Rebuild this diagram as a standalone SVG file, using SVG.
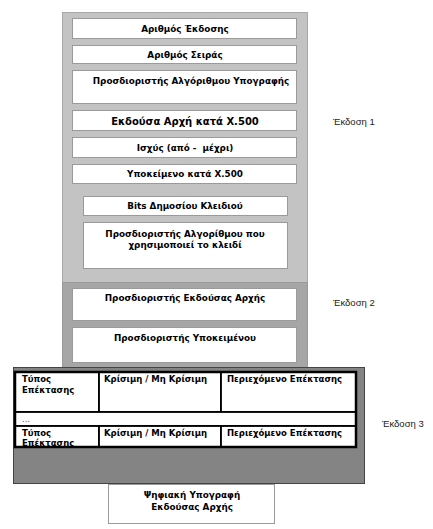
<svg xmlns="http://www.w3.org/2000/svg" width="433" height="529" viewBox="0 0 433 529">
  <style>
    .field { fill: #ffffff; stroke: #9a9a9a; stroke-width: 1; }
    .lbl { font-family: "DejaVu Sans", Verdana, sans-serif; font-weight: bold; font-size: 8.8px; fill: #000; text-anchor: middle; }
    .lbl-l { font-family: "DejaVu Sans", Verdana, sans-serif; font-weight: bold; font-size: 8.5px; fill: #000; }
    .ver { font-family: "Liberation Sans", Arial, sans-serif; font-size: 9.5px; fill: #222; }
    .cell { fill: #ffffff; stroke: #000; stroke-width: 1.8; }
  </style>
  <rect width="433" height="529" fill="#ffffff"/>

  <!-- version bands -->
  <g id="band-v1">
    <rect x="62.5" y="12.5" width="245" height="270" fill="#c3c3c3" stroke="#a8a8a8"/>
  </g>
  <g id="band-v2">
    <rect x="62.5" y="282.5" width="245" height="85" fill="#a6a6a6" stroke="#999"/>
  </g>
  <g id="band-v3">
    <rect x="13.5" y="367.5" width="351" height="116" fill="#848484" stroke="#444"/>
  </g>

  <!-- version 1 fields -->
  <g id="f-version">
    <rect class="field" x="72.5" y="18.5" width="224" height="20"/>
    <text class="lbl" x="185" y="32">Αριθμός Έκδοσης</text>
  </g>
  <g id="f-serial">
    <rect class="field" x="72.5" y="45.5" width="224" height="18"/>
    <text class="lbl" x="185" y="58">Αριθμός Σειράς</text>
  </g>
  <g id="f-sigalg">
    <rect class="field" x="72.5" y="70.5" width="224" height="33"/>
    <text class="lbl" x="191" y="84">Προσδιοριστής Αλγόριθμου Υπογραφής</text>
  </g>
  <g id="f-issuer">
    <rect class="field" x="72.5" y="110.5" width="224" height="20"/>
    <text class="lbl" x="185" y="125" style="font-size:10px">Εκδούσα Αρχή κατά Χ.500</text>
  </g>
  <g id="f-validity">
    <rect class="field" x="72.5" y="137.5" width="224" height="20"/>
    <text class="lbl" x="185" y="151" xml:space="preserve" style="white-space:pre">Ισχύς (από -  μέχρι)</text>
  </g>
  <g id="f-subject">
    <rect class="field" x="72.5" y="164.5" width="224" height="19"/>
    <text class="lbl" x="185" y="177">Υποκείμενο κατά Χ.500</text>
  </g>
  <g id="f-pubkey">
    <rect class="field" x="83.5" y="196.5" width="204" height="19"/>
    <text class="lbl" x="185" y="209">Bits Δημοσίου Κλειδιού</text>
  </g>
  <g id="f-keyalg">
    <rect class="field" x="83.5" y="222.5" width="204" height="46"/>
    <text class="lbl" x="185" y="237">Προσδιοριστής Αλγορίθμου που</text>
    <text class="lbl" x="185" y="248">χρησιμοποιεί το κλειδί</text>
  </g>

  <!-- version 2 fields -->
  <g id="f-issuer-id">
    <rect class="field" x="72.5" y="288.5" width="224" height="32"/>
    <text class="lbl" x="185" y="301">Προσδιοριστής Εκδούσας Αρχής</text>
  </g>
  <g id="f-subject-id">
    <rect class="field" x="72.5" y="327.5" width="224" height="35"/>
    <text class="lbl" x="185" y="341">Προσδιοριστής Υποκειμένου</text>
  </g>

  <!-- version 3 extensions table -->
  <g id="f-extensions">
    <rect x="15" y="372" width="341" height="75" fill="#ffffff"/>
    <rect class="cell" x="15" y="372" width="84" height="40"/>
    <rect class="cell" x="99" y="372" width="122" height="40"/>
    <rect class="cell" x="221" y="372" width="135" height="40"/>
    <rect class="cell" x="15" y="412" width="341" height="14"/>
    <rect class="cell" x="15" y="426" width="84" height="21"/>
    <rect class="cell" x="99" y="426" width="122" height="21"/>
    <rect class="cell" x="221" y="426" width="135" height="21"/>
    <rect x="15" y="372" width="341" height="75" fill="none" stroke="#000" stroke-width="2.5"/>
    <text class="lbl-l" x="22" y="382">Τύπος</text>
    <text class="lbl-l" x="22" y="393">Επέκτασης</text>
    <text class="lbl-l" x="104" y="382">Κρίσιμη / Μη Κρίσιμη</text>
    <text class="lbl-l" x="227" y="382">Περιεχόμενο Επέκτασης</text>
    <text class="lbl-l" x="22" y="422" style="font-weight:normal;fill:#555">...</text>
    <text class="lbl-l" x="22" y="436">Τύπος</text>
    <text class="lbl-l" x="22" y="446">Επέκτασης</text>
    <text class="lbl-l" x="104" y="436">Κρίσιμη / Μη Κρίσιμη</text>
    <text class="lbl-l" x="227" y="436">Περιεχόμενο Επέκτασης</text>
  </g>

  <!-- signature -->
  <g id="f-signature">
    <rect class="field" x="108.5" y="484.5" width="166" height="39"/>
    <text class="lbl" x="192" y="498">Ψηφιακή Υπογραφή</text>
    <text class="lbl" x="192" y="510">Εκδούσας Αρχής</text>
  </g>

  <!-- version labels -->
  <g id="labels">
    <text class="ver" x="333" y="125">Έκδοση 1</text>
    <text class="ver" x="333" y="306">Έκδοση 2</text>
    <text class="ver" x="382" y="427">Έκδοση 3</text>
  </g>
</svg>
